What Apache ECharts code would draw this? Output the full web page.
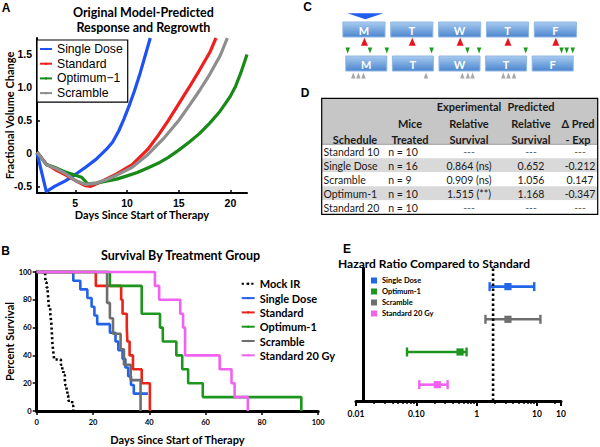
<!DOCTYPE html>
<html>
<head>
<meta charset="utf-8">
<script src="https://cdn.jsdelivr.net/npm/echarts@6.0.0/dist/echarts.min.js"></script>
<style>
html,body{margin:0;padding:0;background:#ffffff;}
#chart{width:600px;height:447px;}
</style>
</head>
<body>
<div id="chart"></div>
<script>
// ================= Panel A: model-predicted response and regrowth =================
const aSeriesNames = ['Single Dose', 'Standard', 'Optimum\u22121', 'Scramble'];
const aSingleDose = [[1.3,0.01],[2.2,-0.58],[3,-0.5],[4,-0.42],[5,-0.32],[6,-0.21],[7,-0.09],[8,0.06],[8.6,0.17],[9.2,0.34],[9.7,0.52],[10.2,0.72],[10.7,0.94],[11.2,1.18],[11.7,1.45],[12.25,1.75]];
const aStandard = [[1.3,0.02],[2.2,-0.16],[3,-0.24],[4,-0.32],[5,-0.41],[6,-0.49],[6.5,-0.5],[7.5,-0.43],[9,-0.31],[10.5,-0.17],[12,0.06],[13,0.27],[14,0.5],[15,0.75],[16,1.0],[17,1.26],[18,1.53],[18.6,1.75]];
const aOptimum1 = [[1.3,0.02],[2.2,-0.17],[3,-0.21],[4,-0.28],[5,-0.33],[5.6,-0.36],[6.2,-0.46],[7,-0.45],[8,-0.42],[9,-0.39],[10,-0.34],[11,-0.29],[12,-0.22],[13,-0.15],[14,-0.06],[15,0.05],[16,0.17],[17,0.3],[18,0.46],[19,0.64],[20,0.87],[20.5,1.02],[21,1.22],[21.6,1.5]];
const aScramble = [[1.3,0.02],[2.2,-0.17],[3,-0.22],[4,-0.3],[5,-0.41],[6,-0.47],[7,-0.45],[8,-0.4],[9,-0.33],[10.5,-0.21],[12,-0.02],[13.5,0.22],[15,0.5],[16,0.72],[17,0.95],[18,1.2],[19,1.48],[19.7,1.75]];
const aXTicks = [5, 10, 15, 20];
const aYTicks = [-0.5, 0, 0.5, 1.0, 1.5];
const aYTickLabels = ['-0.5', '0', '0.5', '1.0', '1.5'];

// ================= Panel B: Kaplan-Meier survival (day, percent surviving) =================
const bSeriesNames = ['Mock IR', 'Single Dose', 'Standard', 'Optimum-1', 'Scramble', 'Standard 20 Gy'];
const bMockIR = [[0,100],[3,96.3],[3.2,92.6],[3.5,88.9],[3.9,85.2],[4.1,81.5],[4.2,77.8],[4.4,74.1],[4.8,70.4],[5,66.7],[5.2,63],[5.3,59.3],[5.4,55.6],[5.5,51.9],[5.6,48.1],[5.8,44.4],[6,40.7],[6.2,37],[8.6,33.3],[9.1,29.6],[9.5,25.9],[10,22.2],[10.2,18.5],[10.6,14.8],[10.9,11.1],[11.2,7.4],[12.6,3.7],[13,0]];
const bSingleDose = [[0,100],[13,93.75],[15.5,87.5],[18,81.25],[19.5,75],[20.5,68.75],[21.5,62.5],[26,56.25],[28,50],[29,43.75],[30.5,37.5],[31.5,31.25],[32.5,25],[33.5,18.75],[34.5,12.5],[39.5,12.5]];
const bStandard = [[0,100],[21,90],[30,80],[30.5,70],[32,60],[32.2,50],[33,40],[34.2,30],[37.3,20],[40.2,0]];
const bOptimum1 = [[0,100],[26,90],[37.3,70],[43.8,60],[44.8,50],[49.6,40],[51.7,30],[53.8,20],[59,10],[94,0]];
const bScramble = [[0,100],[25,77.8],[26,66.7],[27.1,55.6],[29.8,44.4],[31,33.3],[33.4,22.2],[36.9,0]];
const bStandard20 = [[0,100],[42,90],[43.5,80],[51,70],[52,60],[52.7,40],[65,30],[69.2,20],[70.3,10],[75,0]];

// ================= Panel C: weekly schedule (position = day of week, fractional) =================
const cDays = ['M', 'T', 'W', 'T', 'F'];
const cSingleDose = [0.52];
const cStandard = [0.5, 1.5, 2.5, 3.5, 4.5];
const cOptimum1 = [0.10, 0.58, 0.94, 1.90, 2.67, 2.92, 3.92, 4.69, 4.80, 4.93];
const cScramble = [0.22, 0.33, 0.44, 1.78, 2.56, 2.68, 2.78, 3.44, 3.55, 3.67];

// ================= Panel D: table =================
const dHeader1 = ['', '', 'Experimental', 'Predicted', ''];
const dHeader2 = ['', 'Mice', 'Relative', 'Relative', '\u0394 Pred'];
const dHeader3 = ['Schedule', 'Treated', 'Survival', 'Survival', '- Exp'];
const dSchedule = ['Standard 10', 'Single Dose', 'Scramble', 'Optimum-1', 'Standard 20'];
const dMice = ['n = 10', 'n = 16', 'n = 9', 'n = 10', 'n = 10'];
const dExp = ['---', '0.864 (ns)', '0.909 (ns)', '1.515 (**)', '---'];
const dPred = ['---', '0.652', '1.056', '1.168', '---'];
const dDelta = ['---', '-0.212', '0.147', '-0.347', '---'];

// ================= Panel E: hazard ratio vs standard =================
const eNames = ['Single Dose', 'Optimum-1', 'Scramble', 'Standard 20 Gy'];
const eRow = [4, 2, 3, 1];
const eLow = [1.64, 0.07, 1.4, 0.112];
const eHR = [3.3, 0.53, 3.3, 0.223];
const eHigh = [9.0, 0.68, 11.4, 0.33];
const eReference = 1.87;
const eXTickLabels = ['0.01', '0.10', '1', '10'];

// ================= styles =================
const aColors = ['#1f52f2', '#ee1f1c', '#178a17', '#8e8e8e'];
const bColors = ['#000000', '#2462e6', '#ea2418', '#1d961d', '#6e6e6e', '#f262f2'];
const eColors = ['#2166e6', '#1d961d', '#6e6e6e', '#f262f2'];
const BOLD_LATO = {fontFamily: 'Lato', fontWeight: 'bold', color: '#000'};
const C_ROW = {single: 16.3, topBox: [22, 37], standard: 41.7, optimum: 50.5, bottomBox: [56, 71], scramble: 75.5};

const chart = echarts.init(document.getElementById('chart'), null, {renderer: 'svg', width: 600, height: 447});

function hrRender(params, api) {
  const y = api.value(0);
  const a = api.coord([api.value(1), y]);
  const m = api.coord([api.value(2), y]);
  const b = api.coord([api.value(3), y]);
  const color = api.visual('color');
  const cap = 4.5, sq = 3.6;
  return {type: 'group', children: [
    {type: 'line', shape: {x1: a[0], y1: a[1], x2: b[0], y2: b[1]}, style: {stroke: color, lineWidth: 2.6}},
    {type: 'line', shape: {x1: a[0], y1: a[1] - cap, x2: a[0], y2: a[1] + cap}, style: {stroke: color, lineWidth: 2.4}},
    {type: 'line', shape: {x1: b[0], y1: b[1] - cap, x2: b[0], y2: b[1] + cap}, style: {stroke: color, lineWidth: 2.4}},
    {type: 'rect', shape: {x: m[0] - sq, y: m[1] - sq, width: 2 * sq, height: 2 * sq}, style: {fill: color}}
  ]};
}

function boxRender(rows, f0, f1) {
  return function (params, api) {
    const i = api.value(0);
    const p0 = api.coord([i + f0, rows[0]]);
    const p1 = api.coord([i + f1, rows[1]]);
    return {type: 'group', children: [
      {type: 'rect', shape: {x: p0[0], y: p0[1], width: p1[0] - p0[0], height: p1[1] - p0[1]},
        style: {fill: {type: 'linear', x: 0, y: 0, x2: 0, y2: 1, colorStops: [{offset: 0, color: '#a8cbf0'}, {offset: 1, color: '#4c86cf'}]}, stroke: '#8fb6e3', lineWidth: 1}},
      {type: 'text', x: (p0[0] + p1[0]) / 2, y: (p0[1] + p1[1]) / 2 + 0.5,
        style: {text: cDays[params.dataIndex], fill: '#ffffff', font: 'bold 11px Lato', textAlign: 'center', textVerticalAlign: 'middle'}}
    ]};
  };
}

// ---------- series ----------
const series = [];
[aSingleDose, aStandard, aOptimum1, aScramble].forEach((d, i) => {
  series.push({type: 'line', name: 'A|' + aSeriesNames[i], xAxisIndex: 0, yAxisIndex: 0, data: d,
    symbol: 'none', clip: true, lineStyle: {width: 3.2, color: aColors[i]}, itemStyle: {color: aColors[i]}});
});
[bMockIR, bSingleDose, bStandard, bOptimum1, bScramble, bStandard20].forEach((d, i) => {
  series.push({type: 'line', name: 'B|' + bSeriesNames[i], xAxisIndex: 1, yAxisIndex: 1, data: d, step: 'end',
    symbol: 'none', clip: false,
    lineStyle: i === 0 ? {width: 2.6, color: '#000', type: [2.2, 2.6], cap: 'butt'} : {width: 2.6, color: bColors[i]},
    itemStyle: {color: bColors[i]}});
});
series.push({type: 'line', name: 'E|reference', xAxisIndex: 2, yAxisIndex: 2, symbol: 'none', silent: true,
  data: [[eReference, 0.5], [eReference, 4.6]], lineStyle: {color: '#000', width: 2.6, type: [2.4, 2.6], cap: 'butt'}});
eNames.forEach((n, i) => {
  series.push({type: 'custom', name: 'E|' + n, xAxisIndex: 2, yAxisIndex: 2, renderItem: hrRender,
    data: [[eRow[i], eLow[i], eHR[i], eHigh[i]]], encode: {x: [1, 2, 3], y: 0}, itemStyle: {color: eColors[i]}});
});
series.push({type: 'custom', name: 'C|top', xAxisIndex: 3, yAxisIndex: 3, silent: true,
  renderItem: boxRender(C_ROW.topBox, 0.05, 0.93), data: cDays.map((d, i) => [i]), encode: {x: 0}});
series.push({type: 'custom', name: 'C|bottom', xAxisIndex: 4, yAxisIndex: 4, silent: true,
  renderItem: boxRender(C_ROW.bottomBox, 0.06, 0.94), data: cDays.map((d, i) => [i]), encode: {x: 0}});
series.push({type: 'scatter', name: 'C|single', xAxisIndex: 3, yAxisIndex: 3, silent: true,
  data: cSingleDose.map(t => [t, C_ROW.single]), symbol: 'triangle', symbolRotate: 180, symbolSize: [36, 6], itemStyle: {color: '#1f5ef0', opacity: 1}});
series.push({type: 'scatter', name: 'C|standard', xAxisIndex: 3, yAxisIndex: 3, silent: true,
  data: cStandard.map(t => [t, C_ROW.standard]), symbol: 'triangle', symbolSize: [7, 8], itemStyle: {color: '#e8141e', opacity: 1}});
series.push({type: 'scatter', name: 'C|optimum', xAxisIndex: 4, yAxisIndex: 4, silent: true,
  data: cOptimum1.map(t => [t, C_ROW.optimum]), symbol: 'triangle', symbolRotate: 180, symbolSize: [4.5, 6], itemStyle: {color: '#1c9c1c', opacity: 1}});
series.push({type: 'scatter', name: 'C|scramble', xAxisIndex: 4, yAxisIndex: 4, silent: true,
  data: cScramble.map(t => [t, C_ROW.scramble]), symbol: 'triangle', symbolSize: [4.5, 6], itemStyle: {color: '#a8a8a8', opacity: 1}});

// ---------- table graphic ----------
const T = {left: 321.7, right: 597.7, top: 98.3, headH: 46, rowH: 14};
const colCenter = [355, 410, 469, 531, 578];
const graphics = [];
graphics.push({type: 'rect', shape: {x: T.left, y: T.top, width: T.right - T.left, height: T.headH}, style: {fill: '#c6c6c6'}});
dSchedule.forEach((s, r) => {
  graphics.push({type: 'rect', shape: {x: T.left, y: T.top + T.headH + r * T.rowH, width: T.right - T.left, height: T.rowH},
    style: {fill: r % 2 === 1 ? '#d9d9d9' : '#ffffff'}});
});
graphics.push({type: 'line', shape: {x1: T.left, y1: T.top + T.headH, x2: T.right, y2: T.top + T.headH}, style: {stroke: '#9a9a9a', lineWidth: 1}});
graphics.push({type: 'rect', shape: {x: T.left, y: T.top, width: T.right - T.left, height: T.headH + 5 * T.rowH}, style: {fill: 'none', stroke: '#000', lineWidth: 1.2}});
[dHeader1, dHeader2, dHeader3].forEach((row, k) => {
  row.forEach((txt, c) => {
    if (!txt) return;
    graphics.push({type: 'text', x: colCenter[c], y: T.top + 8.5 + k * 16.2,
      style: {text: txt, font: 'bold 11px Lato', fill: '#1a1a1a', textAlign: 'center', textVerticalAlign: 'middle'}});
  });
});
dSchedule.forEach((s, r) => {
  const y = T.top + T.headH + r * T.rowH + T.rowH / 2 + 0.5;
  const cells = [s, dMice[r], dExp[r], dPred[r], dDelta[r]];
  cells.forEach((txt, c) => {
    const left = c === 0 ? 323.5 : (c === 1 ? 388.3 : null);
    graphics.push({type: 'text', x: left !== null ? left : colCenter[c] + (c === 4 ? 2 : 0), y: y,
      style: {text: txt, font: '10.5px Lato', fill: txt === '---' ? '#666' : '#1a1a1a',
        textAlign: left !== null ? 'left' : 'center', textVerticalAlign: 'middle'}});
  });
});

// ---------- titles & panel letters ----------
const titleFont = 'bold 12.5px Lato';
[
  ['Original Model-Predicted', 143.4, 12.5, titleFont],
  ['Response and Regrowth', 143.4, 27.5, titleFont],
  ['Survival By Treatment Group', 180.5, 255, titleFont],
  ['Hazard Ratio Compared to Standard', 434, 263, 'bold 12px Lato'],
  ['A', 6, 8, 'bold 12px Liberation Sans'],
  ['B', 5.5, 251, 'bold 12px Liberation Sans'],
  ['C', 307.5, 7, 'bold 12px Liberation Sans'],
  ['D', 305, 93, 'bold 12px Liberation Sans'],
  ['E', 347, 249, 'bold 12px Liberation Sans']
].forEach(t => {
  graphics.push({type: 'text', x: t[1], y: t[2], style: {text: t[0], font: t[3], fill: '#000', textAlign: 'center', textVerticalAlign: 'middle'}});
});

const hiddenAxis = {show: false};

const option = {
  animation: false,
  backgroundColor: '#ffffff',
  textStyle: {fontFamily: 'Lato'},
  grid: [
    {left: 37, top: 38, width: 210, height: 155},
    {left: 36.7, top: 272, width: 281.5, height: 139},
    {left: 356, top: 268, width: 205, height: 133},
    {left: 340.5, top: 0, width: 239.25, height: 80},
    {left: 343, top: 0, width: 233, height: 80}
  ],
  xAxis: [
    {gridIndex: 0, type: 'value', min: 1.3, max: 21.6,
      axisLine: {show: true, onZero: false, lineStyle: {color: '#000', width: 2}},
      axisTick: {show: true, inside: true, length: 3, customValues: aXTicks, lineStyle: {color: '#000', width: 1.5}},
      axisLabel: {customValues: aXTicks, fontFamily: 'Liberation Sans', fontWeight: 'bold', fontSize: 10.5, color: '#000', margin: 4},
      splitLine: {show: false},
      name: 'Days Since Start of Therapy', nameLocation: 'middle', nameGap: 15,
      nameTextStyle: Object.assign({fontSize: 11}, BOLD_LATO)},
    {gridIndex: 1, type: 'value', min: 0, max: 100, interval: 20,
      axisLine: {show: true, onZero: false, lineStyle: {color: '#000', width: 3}},
      axisTick: {show: true, length: 4, lineStyle: {color: '#000', width: 1.5}},
      axisLabel: Object.assign({fontSize: 7.5, margin: 7}, BOLD_LATO),
      splitLine: {show: false},
      name: 'Days Since Start of Therapy', nameLocation: 'middle', nameGap: 23,
      nameTextStyle: Object.assign({fontSize: 11}, BOLD_LATO)},
    {gridIndex: 2, type: 'log', logBase: 10, min: 0.01, max: 25,
      axisLine: {show: true, onZero: false, lineStyle: {color: '#000', width: 3}},
      axisTick: {show: true, length: 5, lineStyle: {color: '#000', width: 2}},
      minorTick: {show: true, splitNumber: 9, length: 3, lineStyle: {color: '#000', width: 1.5}},
      axisLabel: Object.assign({fontSize: 8.5, margin: 8,
        formatter: v => eXTickLabels[Math.round(Math.log10(+v)) + 2] || ''}, BOLD_LATO),
      splitLine: {show: false}, minorSplitLine: {show: false}},
    Object.assign({gridIndex: 3, type: 'value', min: 0, max: 5}, hiddenAxis),
    Object.assign({gridIndex: 4, type: 'value', min: 0, max: 5}, hiddenAxis)
  ],
  yAxis: [
    {gridIndex: 0, type: 'value', min: -0.6, max: 1.75,
      axisLine: {show: true, onZero: false, lineStyle: {color: '#000', width: 2}},
      axisTick: {show: true, inside: true, length: 3, customValues: aYTicks, lineStyle: {color: '#000', width: 1.5}},
      axisLabel: {show: false},
      splitLine: {show: false},
      name: 'Fractional Volume Change', nameLocation: 'middle', nameGap: 22,
      nameTextStyle: Object.assign({fontSize: 11}, BOLD_LATO)},
    {gridIndex: 1, type: 'value', min: 0, max: 100, interval: 20,
      axisLine: {show: true, onZero: false, lineStyle: {color: '#000', width: 3}},
      axisTick: {show: true, length: 4, lineStyle: {color: '#000', width: 1.5}},
      axisLabel: Object.assign({fontSize: 7.5, margin: 5}, BOLD_LATO),
      splitLine: {show: false},
      name: 'Percent Survival', nameLocation: 'middle', nameGap: 18,
      nameTextStyle: Object.assign({fontSize: 11}, BOLD_LATO)},
    {gridIndex: 2, type: 'value', min: 0.5, max: 4.57, offset: -7,
      axisLine: {show: true, onZero: false, lineStyle: {color: '#000', width: 3}},
      axisTick: {show: false}, axisLabel: {show: false}, splitLine: {show: false}},
    Object.assign({gridIndex: 3, type: 'value', min: 0, max: 80, inverse: true}, hiddenAxis),
    Object.assign({gridIndex: 4, type: 'value', min: 0, max: 80, inverse: true}, hiddenAxis)
  ],
  legend: [
    {data: aSeriesNames.map(n => 'A|' + n), left: 37, top: 40, orient: 'vertical', selectedMode: false,
      padding: [3, 5, 3, 2], itemWidth: 12, itemHeight: 3, itemGap: 2.7,
      backgroundColor: '#fff', borderColor: '#000', borderWidth: 1.2,
      formatter: n => n.slice(2),
      textStyle: {fontFamily: 'Liberation Sans', fontSize: 12.2, lineHeight: 11, color: '#000'}},
    {data: bSeriesNames.map(n => 'B|' + n), left: 240.7, top: 278.3, orient: 'vertical', selectedMode: false,
      padding: 0, itemWidth: 13, itemHeight: 3, itemGap: 3.3,
      formatter: n => n.slice(2),
      textStyle: {fontFamily: 'Lato', fontWeight: 'bold', fontSize: 11, lineHeight: 10, color: '#000'}},
    {data: eNames.map(n => 'E|' + n), left: 371, top: 276.5, orient: 'vertical', selectedMode: false,
      padding: 0, itemWidth: 6, itemHeight: 6, itemGap: 3, icon: 'rect',
      formatter: n => n.slice(2),
      textStyle: {fontFamily: 'Lato', fontWeight: 'bold', fontSize: 7.5, lineHeight: 7, color: '#000'}}
  ],
  graphic: graphics,
  series: series
};
chart.setOption(option);

// Panel A y tick labels, placed through the axis scale of grid A
const aYLabelGraphics = aYTicks.map((v, i) => {
  const p = chart.convertToPixel({xAxisIndex: 0, yAxisIndex: 0}, [1.3, v]);
  return {type: 'text', x: p[0] - 5, y: p[1],
    style: {text: aYTickLabels[i], font: 'bold 10.5px Liberation Sans', fill: '#000', textAlign: 'right', textVerticalAlign: 'middle'}};
});
chart.setOption({graphic: graphics.concat(aYLabelGraphics)});
</script>
</body>
</html>
